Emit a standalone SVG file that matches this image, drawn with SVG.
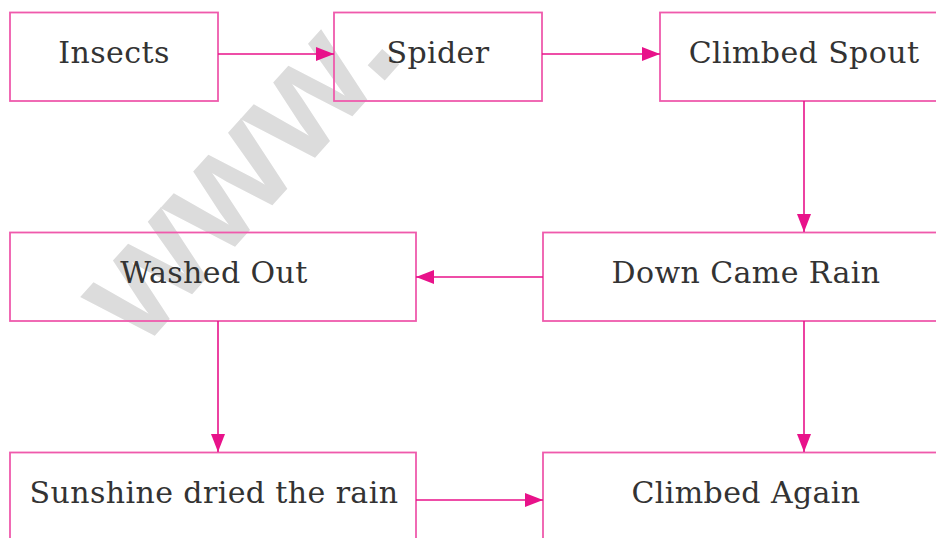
<svg xmlns="http://www.w3.org/2000/svg" width="936" height="538" viewBox="0 0 936 538">
<style>
.box{fill:none;stroke:#ef5aac;stroke-width:1.8}
.lbl{font-family:"DejaVu Serif","Liberation Serif",serif;font-size:30px;letter-spacing:0.4px;fill:#333;text-anchor:middle}
.con{stroke:#e8128a;stroke-width:1.6;fill:none}
.wm{font-family:"Liberation Sans",Arial,sans-serif;font-weight:bold;font-size:154px;fill:#dcdcdc}
</style>
<defs>
<marker id="ah" markerUnits="userSpaceOnUse" markerWidth="18" markerHeight="14" refX="18" refY="7" orient="auto">
<path d="M0,0 L18,7 L0,14 Z" fill="#e8128a"/>
</marker>
</defs>
<rect width="936" height="538" fill="#fff"/>
<g id="watermark"><text class="wm" transform="translate(141,351) rotate(-48)">www.</text></g>
<g id="insects"><rect class="box" x="10" y="12.5" width="208" height="88.5"/><text class="lbl" x="114" y="63">Insects</text></g>
<g id="spider"><rect class="box" x="334" y="12.5" width="208" height="88.5"/><text class="lbl" x="438" y="63">Spider</text></g>
<g id="climbed-spout"><rect class="box" x="660" y="12.5" width="290" height="88.5"/><text class="lbl" x="804" y="63">Climbed Spout</text></g>
<g id="washed-out"><rect class="box" x="10" y="232.5" width="406" height="88.5"/><text class="lbl" x="214" y="283">Washed Out</text></g>
<g id="down-came-rain"><rect class="box" x="543" y="232.5" width="407" height="88.5"/><text class="lbl" x="746" y="283">Down Came Rain</text></g>
<g id="sunshine"><rect class="box" x="10" y="452.5" width="406" height="95"/><text class="lbl" x="214" y="503">Sunshine dried the rain</text></g>
<g id="climbed-again"><rect class="box" x="543" y="452.5" width="407" height="95"/><text class="lbl" x="746" y="503">Climbed Again</text></g>
<g id="connectors">
<line class="con" x1="218" y1="54" x2="334" y2="54" marker-end="url(#ah)"/>
<line class="con" x1="542" y1="54" x2="660" y2="54" marker-end="url(#ah)"/>
<line class="con" x1="804" y1="101" x2="804" y2="232" marker-end="url(#ah)"/>
<line class="con" x1="543" y1="277" x2="416" y2="277" marker-end="url(#ah)"/>
<line class="con" x1="218" y1="321" x2="218" y2="452" marker-end="url(#ah)"/>
<line class="con" x1="804" y1="321" x2="804" y2="452" marker-end="url(#ah)"/>
<line class="con" x1="416" y1="500" x2="543" y2="500" marker-end="url(#ah)"/>
</g>
</svg>
